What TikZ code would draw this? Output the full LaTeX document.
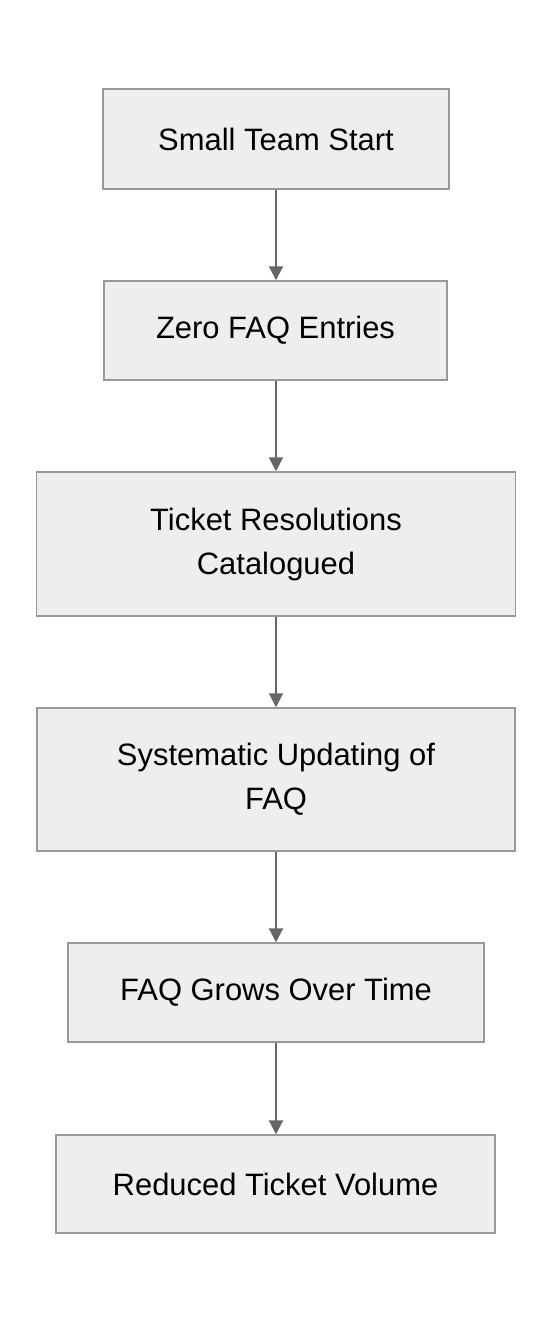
\documentclass[tikz,border=0pt]{standalone}
\usepackage{fontspec}
\setmainfont{Liberation Sans}
\usetikzlibrary{arrows.meta}
\definecolor{boxfill}{HTML}{EEEEEE}
\definecolor{boxborder}{HTML}{999999}
\definecolor{arrowc}{HTML}{666666}
\begin{document}
\begin{tikzpicture}[x=0.75pt,y=-0.75pt,
  flowbox/.style={draw=boxborder, fill=boxfill, line width=1.1pt, align=center,
    font=\fontsize{23.2}{33}\selectfont, inner sep=0pt, text=black},
  arr/.style={draw=arrowc, line width=1.5pt, -{Triangle[length=10.5pt,width=10.5pt]}}]
\useasboundingbox (0,0) rectangle (552,1324);
\node[flowbox, minimum width=346*0.75pt, minimum height=100*0.75pt] (n1) at (276,139) {Small Team Start};
\node[flowbox, minimum width=343*0.75pt, minimum height=99*0.75pt] (n2) at (275.5,330.5) {Zero FAQ Entries};
\node[flowbox, minimum width=479*0.75pt, minimum height=144*0.75pt] (n3) at (276,544) {Ticket Resolutions\\Catalogued};
\node[flowbox, minimum width=478*0.75pt, minimum height=143*0.75pt] (n4) at (276,779.5) {Systematic Updating of\\FAQ};
\node[flowbox, minimum width=416*0.75pt, minimum height=99*0.75pt] (n5) at (276,992.5) {FAQ Grows Over Time};
\node[flowbox, minimum width=439*0.75pt, minimum height=98*0.75pt] (n6) at (275.5,1184) {Reduced Ticket Volume};
\draw[arr] (n1.south -| 276,0) -- (n2.north -| 276,0);
\draw[arr] (n2.south -| 276,0) -- (n3.north -| 276,0);
\draw[arr] (n3.south) -- (n4.north);
\draw[arr] (n4.south) -- (n5.north);
\draw[arr] (n5.south) -- (n6.north -| 276,0);
\end{tikzpicture}
\end{document}
